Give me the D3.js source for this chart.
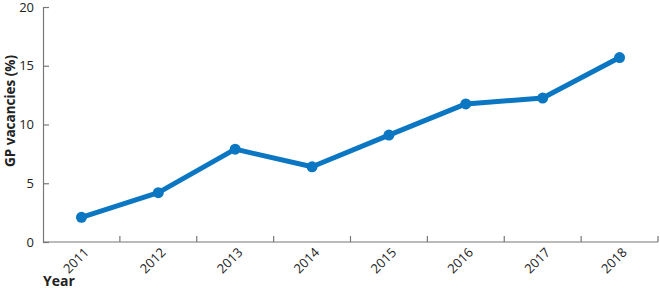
<!DOCTYPE html>
<html>
<head>
<meta charset="utf-8">
<script src="https://cdn.jsdelivr.net/npm/d3@7"></script>
<style>
  body { margin: 0; background: #fff; }
  text { font-family: "Open Sans", sans-serif; fill: #222; }
</style>
</head>
<body>
<div id="chart"></div>
<script>
var years = ["2011", "2012", "2013", "2014", "2015", "2016", "2017", "2018"];
var vacancies = [2.1, 4.2, 7.9, 6.4, 9.1, 11.75, 12.25, 15.7];
var yTicks = [0, 5, 10, 15, 20];

var margin = {top: 7, right: 2, bottom: 50, left: 43},
    width = 660 - margin.left - margin.right,
    height = 292 - margin.top - margin.bottom;

var svg = d3.select("#chart").append("svg")
    .attr("width", 660)
    .attr("height", 292)
  .append("g")
    .attr("transform", "translate(" + margin.left + "," + margin.top + ")");

var x = d3.scaleBand()
    .domain(years)
    .range([0, width]);

var y = d3.scaleLinear()
    .domain([0, 20])
    .range([height, 0]);

// y axis, ticks point inwards
var yAxis = svg.append("g")
    .call(d3.axisLeft(y).tickValues(yTicks).tickSize(-6).tickPadding(9).tickSizeOuter(0));
yAxis.selectAll("text").attr("font-size", 13).attr("fill", "#222").attr("font-family", "Open Sans");
yAxis.select(".domain").attr("stroke", "#777").attr("stroke-width", 1.2);
yAxis.selectAll(".tick line").attr("stroke", "#777").attr("stroke-width", 1.2);

// x axis, ticks at band edges
var xg = svg.append("g")
    .attr("transform", "translate(0," + height + ")");
xg.append("line")
    .attr("x1", 0).attr("x2", width)
    .attr("stroke", "#777").attr("stroke-width", 1.2);
xg.selectAll(".xtick")
    .data(years)
  .enter().append("line")
    .attr("class", "xtick")
    .attr("x1", function(d){ return x(d) + x.bandwidth(); })
    .attr("x2", function(d){ return x(d) + x.bandwidth(); })
    .attr("y1", 0).attr("y2", -6)
    .attr("stroke", "#777").attr("stroke-width", 1.2);
xg.selectAll(".xlabel")
    .data(years)
  .enter().append("text")
    .attr("class", "xlabel")
    .attr("transform", function(d){
        return "translate(" + (x(d) + x.bandwidth() / 2 + 5) + ",8) rotate(-45)";
    })
    .attr("text-anchor", "end")
    .attr("dy", "0.35em")
    .attr("font-size", 13)
    .text(function(d){ return d; });

var line = d3.line()
    .x(function(d, i){ return x(years[i]) + x.bandwidth() / 2; })
    .y(function(d){ return y(d); });

svg.append("path")
    .datum(vacancies)
    .attr("d", line)
    .attr("fill", "none")
    .attr("stroke", "#0b76c1")
    .attr("stroke-width", 5)
    .attr("stroke-linejoin", "round");

svg.selectAll(".dot")
    .data(vacancies)
  .enter().append("circle")
    .attr("class", "dot")
    .attr("cx", function(d, i){ return x(years[i]) + x.bandwidth() / 2; })
    .attr("cy", function(d){ return y(d); })
    .attr("r", 5.5)
    .attr("fill", "#0b76c1");

// axis titles
svg.append("text")
    .attr("transform", "translate(" + (-28) + "," + 104 + ") rotate(-90)")
    .attr("text-anchor", "middle")
    .attr("font-size", 13.5)
    .attr("font-weight", "bold")
    .text("GP vacancies (%)");

svg.append("text")
    .attr("x", 0)
    .attr("y", height + 44)
    .attr("font-size", 14)
    .attr("font-weight", "bold")
    .text("Year");
</script>
</body>
</html>
